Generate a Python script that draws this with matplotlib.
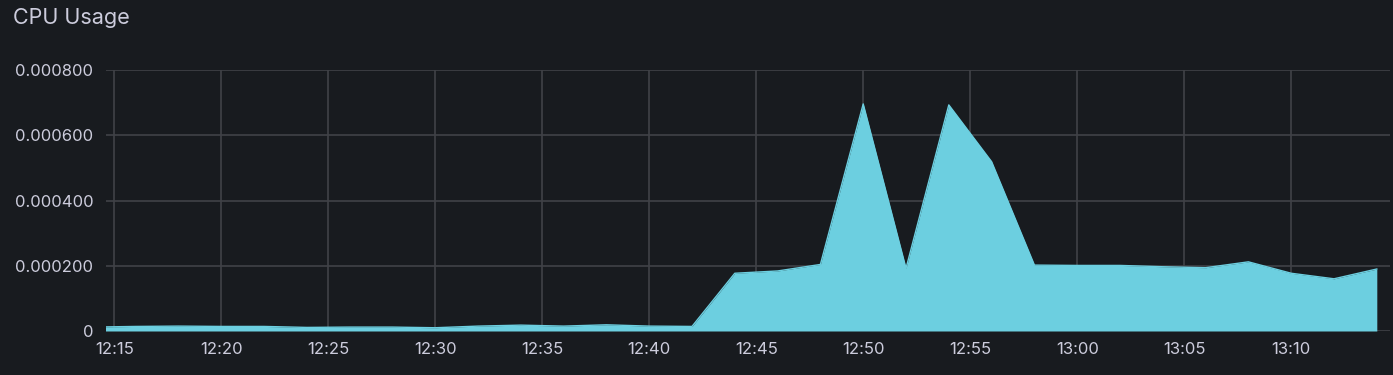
import datetime as dt
import matplotlib
matplotlib.use("Agg")
import matplotlib.pyplot as plt
import matplotlib.dates as mdates
from matplotlib.ticker import FixedLocator, FuncFormatter

# samples every 2 minutes
times = ["12:14", "12:16", "12:18", "12:20", "12:22", "12:24", "12:26", "12:28",
         "12:30", "12:32", "12:34", "12:36", "12:38", "12:40", "12:42", "12:44",
         "12:46", "12:48", "12:50", "12:52", "12:54", "12:56", "12:58", "13:00",
         "13:02", "13:04", "13:06", "13:08", "13:10", "13:12", "13:14"]
cpu = [0.000012, 0.000014, 0.000015, 0.000014, 0.000014, 0.000011, 0.000012, 0.000012,
       0.000010, 0.000015, 0.000018, 0.000015, 0.000019, 0.000015, 0.000014, 0.000177,
       0.000184, 0.000204, 0.000696, 0.000192, 0.000693, 0.000519, 0.000202, 0.000201,
       0.000201, 0.000197, 0.000194, 0.000212, 0.000177, 0.000160, 0.000190]
y_ticks = [0, 0.0002, 0.0004, 0.0006, 0.0008]

BG = "#181b1f"
TXT = "#ccccdc"
GRID = "#404247"
FILL = "#6ccfe0"

day = dt.date(2024, 1, 1)
x = [dt.datetime.combine(day, dt.datetime.strptime(t, "%H:%M").time()) for t in times]

plt.rcParams['font.family'] = ['Inter', 'DejaVu Sans']

fig = plt.figure(figsize=(13.93, 3.75), dpi=100, facecolor=BG)
ax = fig.add_axes([106 / 1393, 1 - 331 / 375, (1390 - 106) / 1393, (331 - 70) / 375])
ax.set_facecolor(BG)

ax.fill_between(x, cpu, 0, color=FILL, linewidth=0, zorder=3)
ax.plot(x, cpu, color=FILL, linewidth=1, zorder=3)

x0 = dt.datetime.combine(day, dt.time(12, 14, 37))
ax.set_xlim(x0, x0 + dt.timedelta(hours=1))
ax.set_ylim(0, 0.0008)

ax.xaxis.set_major_locator(mdates.MinuteLocator(byminute=range(0, 60, 5)))
ax.xaxis.set_major_formatter(mdates.DateFormatter("%H:%M"))
ax.yaxis.set_major_locator(FixedLocator(y_ticks))
ax.yaxis.set_major_formatter(FuncFormatter(lambda v, p: "0" if v == 0 else f"{v:.6f}"))

ax.grid(True, color=GRID, linewidth=1.2, zorder=0)
for s in ax.spines.values():
    s.set_visible(False)
ax.tick_params(colors=TXT, labelsize=12, length=0)
ax.tick_params(axis="y", pad=9)
ax.tick_params(axis="x", pad=8)

fig.text(13 / 1393, 1 - 18 / 375, "CPU Usage", color=TXT, fontsize=15.5, va="center", ha="left")

fig.savefig("out.png", dpi=100, facecolor=BG)
